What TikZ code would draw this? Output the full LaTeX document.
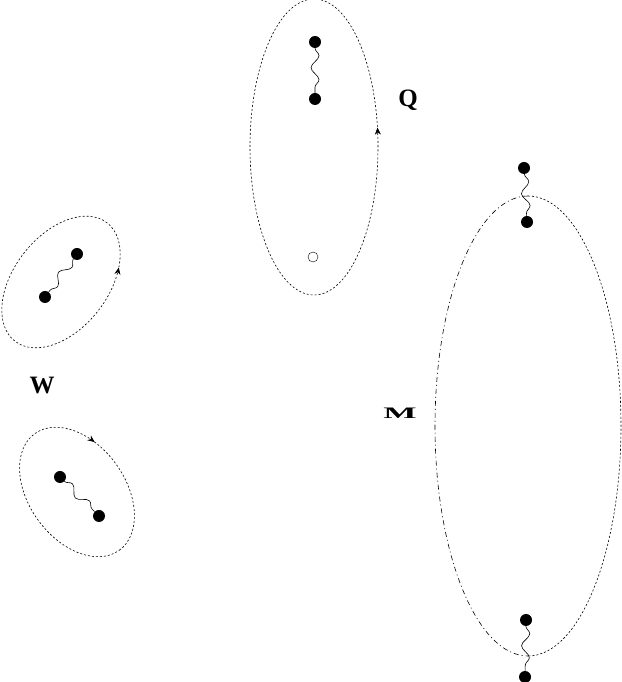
\documentclass[tikz,border=0pt]{standalone}
\usepackage{fontspec}
\setmainfont{Liberation Serif}
\usepackage{tikz}
\usetikzlibrary{arrows.meta}
\usetikzlibrary{decorations.pathmorphing}
\usetikzlibrary{decorations.markings}

\begin{document}
\begin{tikzpicture}[x=1pt,y=1pt,
  ring/.style={line width=0.6pt,dash pattern=on 2pt off 2pt},
  charge/.style={circle,fill,inner sep=0pt,minimum size=12pt},
  hole/.style={circle,draw,inner sep=0pt,minimum size=10pt},
  string/.style={line width=0.6pt,decorate,decoration={snake,amplitude=4pt,segment length=24pt}},
  flow/.style={postaction={decorate,decoration={markings,mark=at position #1 with {\arrow{Stealth[length=7pt,width=6pt]}}}}},
  backflow/.style={postaction={decorate,decoration={markings,mark=at position #1 with {\arrowreversed{Stealth[length=7pt,width=6pt]}}}}},
  label/.style={font=\bfseries\fontsize{25}{25}\selectfont}]
  \useasboundingbox (0,0) rectangle (621,682);
  %Q
  \draw[ring,flow=0.028] (314,535) ellipse [x radius=64,y radius=148];
  \node[charge] (qtop) at (315,640) {};
  \node[charge] (qbot) at (315,583) {};
  \draw[string] (qtop) -- (qbot);
  \node[hole] (qhole) at (313,425) {};
  \node[label] (qlab) at (408,582) {Q};
  %W
  %upper
  \draw[ring,flow=0.875,shift={(61,400)},rotate=52] (0,0) ellipse [x radius=75,y radius=47];
  \node[charge] (wua) at (77,428) {};
  \node[charge] (wub) at (45,385) {};
  \draw[string] (wua) -- (wub);
  \node[label] (wlab) at (42,296) {W};
  %lower
  \draw[ring,backflow=0.33,shift={(77,190)},rotate=-54] (0,0) ellipse [x radius=72,y radius=48];
  \node[charge] (wla) at (60,205) {};
  \node[charge] (wlb) at (99,166) {};
  \draw[string] (wla) -- (wlb);
  %M
  \draw[line width=0.6pt,dash pattern=on 5pt off 3pt on 1pt off 3pt] (528,486) arc[start angle=90,end angle=270,x radius=93,y radius=230];
  \draw[ring] (528,486) arc[start angle=90,end angle=-90,x radius=93,y radius=230];
  \node[label] (mlab) at (400,269) {\fontsize{16}{16}\selectfont\scalebox{2.2}[1]{M}};
  %upper
  \node[charge] (mta) at (524,514) {};
  \node[charge] (mtb) at (527,460) {};
  \draw[string] (mta) -- (mtb);
  %lower
  \node[charge] (mba) at (526,62) {};
  \node[charge] (mbb) at (525,5) {};
  \draw[string] (mba) -- (mbb);
\end{tikzpicture}
\end{document}
